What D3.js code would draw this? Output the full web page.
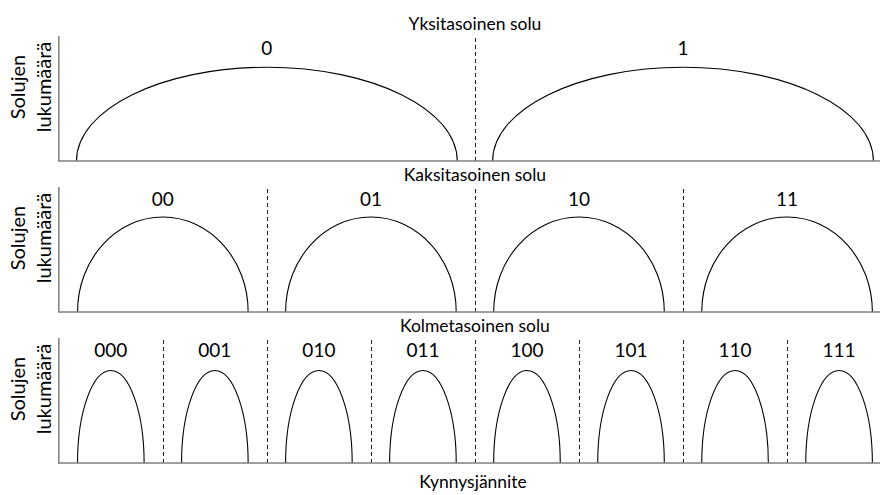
<!DOCTYPE html>
<html>
<head>
<meta charset="utf-8">
<script src="https://cdn.jsdelivr.net/npm/d3@7"></script>
<style>
  body { margin: 0; background: #fff; }
  svg { display: block; font-family: Lato, "Open Sans", sans-serif; }
  .axis { stroke: #7f7f7f; stroke-width: 1.5; fill: none; }
  .sep { stroke: #222; stroke-width: 1; stroke-dasharray: 4 3; fill: none; }
  .dist { stroke: #000; stroke-width: 1.1; fill: none; }
</style>
</head>
<body>
<svg></svg>
<script>
// panel titles
const panelTitles = ["Yksitasoinen solu", "Kaksitasoinen solu", "Kolmetasoinen solu"];
// state labels per panel
const stateLabels = [
  ["0", "1"],
  ["00", "01", "10", "11"],
  ["000", "001", "010", "011", "100", "101", "110", "111"]
];
// peak positions (threshold voltage units)
const peakCenters = [
  [2, 6],
  [1, 3, 5, 7],
  [0.5, 1.5, 2.5, 3.5, 4.5, 5.5, 6.5, 7.5]
];
// half widths of distributions per panel
const halfWidths = [1.83, 0.82, 0.32];
// relative peak height (count)
const peakHeights = [0.75, 0.76, 0.74];
// dashed separators
const separators = [
  [4],
  [2, 4, 6],
  [1, 2, 3, 4, 5, 6, 7]
];
const yLabel = ["Solujen", "lukumäärä"];
const xLabel = "Kynnysjännite";

const width = 880, height = 495;
const svg = d3.select("svg").attr("width", width).attr("height", height);

const x = d3.scaleLinear().domain([0, 8]).range([58.8, 891.1]);
const panelH = 125, panelStep = 151, firstTop = 36;

panelTitles.forEach((title, i) => {
  const top = firstTop + i * panelStep;
  const base = top + panelH;
  const y = d3.scaleLinear().domain([0, 1]).range([base, top]);
  const g = svg.append("g");

  // title
  g.append("text")
    .attr("x", x(4)).attr("y", top - 6)
    .attr("text-anchor", "middle")
    .attr("font-size", 17.5)
    .text(title);

  // y label, two lines
  yLabel.forEach((t, k) => {
    g.append("text")
      .attr("transform", `translate(${k === 0 ? 25 : 51},${top + 51}) rotate(-90)`)
      .attr("text-anchor", "middle")
      .attr("font-size", 20)
      .text(t);
  });

  // separators
  g.selectAll("line.sep")
    .data(separators[i])
    .enter()
    .append("line")
    .attr("class", "sep")
    .attr("x1", d => Math.round(x(d)) + 0.5).attr("x2", d => Math.round(x(d)) + 0.5)
    .attr("y1", top + 2).attr("y2", base);

  // distributions as half ellipses
  const kap = 0.5523;
  g.selectAll("path.dist")
    .data(peakCenters[i])
    .enter()
    .append("path")
    .attr("class", "dist")
    .attr("d", c => {
      const x0 = x(c - halfWidths[i]), x1 = x(c + halfWidths[i]), xc = x(c);
      const yt = y(peakHeights[i]), yb = y(0);
      const w = xc - x0, h = yb - yt;
      const p = d3.path();
      p.moveTo(x0, yb);
      p.bezierCurveTo(x0, yb - kap * h, xc - kap * w, yt, xc, yt);
      p.bezierCurveTo(xc + kap * w, yt, x1, yb - kap * h, x1, yb);
      return p.toString();
    });

  // state labels
  g.selectAll("text.state")
    .data(stateLabels[i])
    .enter()
    .append("text")
    .attr("class", "state")
    .attr("x", (d, j) => x(peakCenters[i][j]))
    .attr("y", top + 18.5)
    .attr("text-anchor", "middle")
    .attr("font-size", 19)
    .text(d => d);

  // axes
  g.append("path")
    .attr("class", "axis")
    .attr("d", `M${x(0)},${top}V${base}H${width}`);
});

svg.append("text")
  .attr("x", 473).attr("y", 488)
  .attr("text-anchor", "middle")
  .attr("font-size", 17.5)
  .text(xLabel);
</script>
</body>
</html>
